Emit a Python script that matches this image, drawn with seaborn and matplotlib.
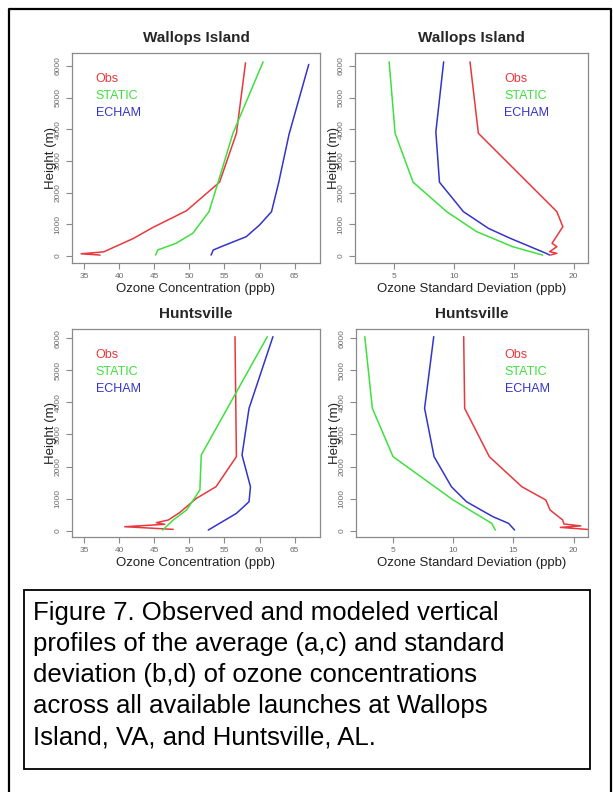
import pandas as pd
import seaborn as sns
import matplotlib.pyplot as plt
from matplotlib.lines import Line2D
from matplotlib.patches import Rectangle

# Profile data (height in m, ozone in ppb)

# (a) Wallops Island, mean
wal_mean_obs_h = [30, 70, 130, 550, 900, 1430, 2330, 3870, 6100]
wal_mean_obs = [37.3, 34.6, 37.8, 42.0, 44.8, 49.6, 54.3, 56.7, 58.0]
wal_mean_static_h = [30, 190, 400, 720, 1400, 2330, 3870, 6130]
wal_mean_static = [45.2, 45.5, 48.1, 50.5, 52.8, 54.1, 56.2, 60.5]
wal_mean_echam_h = [30, 190, 300, 610, 980, 1400, 2300, 3850, 6050]
wal_mean_echam = [53.1, 53.4, 54.6, 58.1, 60.0, 61.7, 62.7, 64.2, 67.0]

# (b) Wallops Island, standard deviation
wal_sd_obs_h = [32, 85, 136, 294, 401, 925, 1400, 3874, 6130]
wal_sd_obs = [18.1, 18.6, 18.0, 18.6, 18.2, 19.1, 18.6, 12.05, 11.35]
wal_sd_static_h = [30, 295, 770, 1400, 2330, 3870, 6130]
wal_sd_static = [17.4, 14.9, 11.9, 9.4, 6.6, 5.1, 4.6]
wal_sd_echam_h = [30, 85, 560, 870, 1400, 2330, 3920, 6130]
wal_sd_echam = [18.0, 17.7, 14.7, 12.9, 10.8, 8.8, 8.5, 9.15]

# (c) Huntsville, mean
hun_mean_obs_h = [42, 125, 200, 250, 333, 561, 1008, 1372, 2308, 6050]
hun_mean_obs = [47.7, 40.8, 46.5, 45.3, 47.0, 48.6, 51.0, 53.8, 56.7, 56.5]
hun_mean_static_h = [21, 333, 644, 1268, 2360, 6050]
hun_mean_static = [46.2, 47.7, 49.6, 51.5, 51.7, 61.1]
hun_mean_echam_h = [21, 229, 540, 904, 1372, 2360, 3815, 6050]
hun_mean_echam = [52.7, 54.3, 56.7, 58.5, 58.7, 57.5, 58.5, 61.9]

# (d) Huntsville, standard deviation
hun_sd_obs_h = [22, 104, 150, 210, 333, 645, 956, 1372, 2308, 3815, 6050]
hun_sd_obs = [21.8, 18.9, 20.6, 19.2, 19.1, 18.05, 17.7, 15.7, 13.0, 10.95, 10.87]
hun_sd_static_h = [21, 229, 956, 2308, 3815, 6050]
hun_sd_static = [13.5, 13.2, 10.0, 5.0, 3.28, 2.65]
hun_sd_echam_h = [21, 229, 437, 904, 1372, 2308, 3815, 6050]
hun_sd_echam = [15.1, 14.6, 13.3, 11.1, 9.85, 8.41, 7.62, 8.38]

models = ['Obs', 'STATIC', 'ECHAM']
colors = {'Obs': '#e8383d', 'STATIC': '#3fe03f', 'ECHAM': '#3434c8'}

caption = ('Figure 7. Observed and modeled vertical\n'
           'profiles of the average (a,c) and standard\n'
           'deviation (b,d) of ozone concentrations\n'
           'across all available launches at Wallops\n'
           'Island, VA, and Huntsville, AL.')


def profile_frame(obs, obs_h, static, static_h, echam, echam_h):
    parts = []
    for name, x, h in [('Obs', obs, obs_h), ('STATIC', static, static_h), ('ECHAM', echam, echam_h)]:
        parts.append(pd.DataFrame({'ozone': x, 'height': h, 'model': name}))
    return pd.concat(parts, ignore_index=True)


panels = [
    dict(df=profile_frame(wal_mean_obs, wal_mean_obs_h, wal_mean_static, wal_mean_static_h,
                          wal_mean_echam, wal_mean_echam_h),
         title='Wallops Island', xlabel='Ozone Concentration (ppb)',
         rect=[72, 53, 320, 263], xlim=(33.3, 68.6), ylim=(-221, 6410),
         xticks=[35, 40, 45, 50, 55, 60, 65], leg_x=0.075),
    dict(df=profile_frame(wal_sd_obs, wal_sd_obs_h, wal_sd_static, wal_sd_static_h,
                          wal_sd_echam, wal_sd_echam_h),
         title='Wallops Island', xlabel='Ozone Standard Deviation (ppb)',
         rect=[355, 53, 588, 263], xlim=(1.75, 21.2), ylim=(-221, 6410),
         xticks=[5, 10, 15, 20], leg_x=0.62),
    dict(df=profile_frame(hun_mean_obs, hun_mean_obs_h, hun_mean_static, hun_mean_static_h,
                          hun_mean_echam, hun_mean_echam_h),
         title='Huntsville', xlabel='Ozone Concentration (ppb)',
         rect=[72, 329, 320, 537], xlim=(33.3, 68.6), ylim=(-196, 6289),
         xticks=[35, 40, 45, 50, 55, 60, 65], leg_x=0.075),
    dict(df=profile_frame(hun_sd_obs, hun_sd_obs_h, hun_sd_static, hun_sd_static_h,
                          hun_sd_echam, hun_sd_echam_h),
         title='Huntsville', xlabel='Ozone Standard Deviation (ppb)',
         rect=[356, 329, 588, 537], xlim=(1.92, 21.2), ylim=(-196, 6289),
         xticks=[5, 10, 15, 20], leg_x=0.62),
]

sns.set_theme(style='white')
plt.rcParams['font.family'] = ['Liberation Sans', 'DejaVu Sans']

W, H = 613, 792
fig = plt.figure(figsize=(W / 100, H / 100), dpi=100)
fig.patch.set_facecolor('white')

for p in panels:
    l, t, r, b = p['rect']
    ax = fig.add_axes([l / W, 1 - b / H, (r - l) / W, (b - t) / H])
    sns.lineplot(data=p['df'], x='ozone', y='height', hue='model', hue_order=models,
                 palette=colors, sort=False, estimator=None, linewidth=1.1, ax=ax)
    ax.set_xlim(p['xlim'])
    ax.set_ylim(p['ylim'])
    ax.set_xticks(p['xticks'])
    ax.set_yticks([0, 1000, 2000, 3000, 4000, 5000, 6000])
    for s in ax.spines.values():
        s.set_color('#8a8a8a')
        s.set_linewidth(0.9)
    ax.tick_params(axis='both', direction='out', length=4, width=0.8, color='#8a8a8a',
                   labelsize=6, labelcolor='#6a6a6a', pad=3.5, bottom=True, left=True)
    ax.tick_params(axis='y', labelrotation=90)
    for lab in ax.get_yticklabels():
        lab.set_va('center')

    hpx = b - t
    wpx = r - l
    ax.set_title(p['title'], fontsize=11, fontweight='bold', y=1 + 15 / hpx, va='center', pad=0)
    ax.set_xlabel(p['xlabel'], fontsize=9.5, color='#222222')
    ax.xaxis.set_label_coords(0.5, -26 / hpx)
    ax.xaxis.label.set_va('center')
    ax.set_ylabel('Height (m)', fontsize=9.5, color='#222222')
    ax.yaxis.set_label_coords(-21 / wpx, 0.5)
    ax.yaxis.label.set_va('center')

    handles, labels = ax.get_legend_handles_labels()
    leg = ax.legend(handles, labels, loc='upper left', bbox_to_anchor=(p['leg_x'], 0.93),
                    frameon=False, handlelength=0, handletextpad=0, labelspacing=0.42,
                    fontsize=9, labelcolor='linecolor', borderaxespad=0)
    for hdl in leg.legend_handles:
        hdl.set_visible(False)

# page border (left, top, right)
fig.add_artist(Line2D([9 / W, 9 / W, 611 / W, 611 / W], [0, 1 - 9 / H, 1 - 9 / H, 0],
                      transform=fig.transFigure, color='black', linewidth=1.6))

# caption box
fig.add_artist(Rectangle((24 / W, 1 - 769 / H), (590 - 24) / W, (769 - 590) / H,
                         transform=fig.transFigure, fill=False, edgecolor='black', linewidth=1.3))
fig.text(33 / W, 1 - 601 / H, caption, ha='left', va='top', fontsize=18.5,
         linespacing=1.37, color='black')

fig.savefig('out.png', dpi=100)
